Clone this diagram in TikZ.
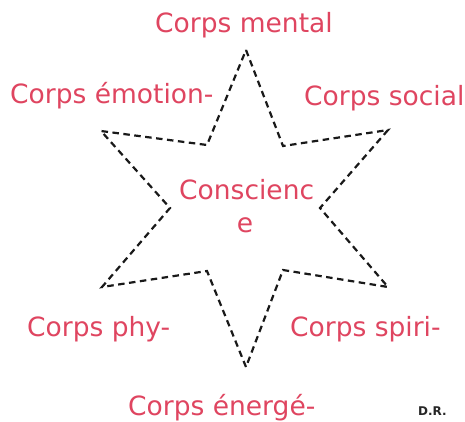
\documentclass[tikz,border=0pt]{standalone}
\usepackage{fontspec}
\setmainfont{DejaVu Sans}
\definecolor{lab}{HTML}{DF4560}
\begin{document}
\begin{tikzpicture}[x=1pt,y=-1pt,
  lbl/.style={text=lab,font=\fontsize{26.5}{30}\selectfont,inner sep=0pt,anchor=base west},
  starline/.style={draw=black!90,line width=2.2pt,dash pattern=on 6.5pt off 4.5pt}]
\useasboundingbox (0,0) rectangle (465,421);
\coordinate (t) at (246,50);
\coordinate (ir) at (283,146);
\coordinate (ur) at (388,130);
\coordinate (r) at (320,208);
\coordinate (lr) at (388,287);
\coordinate (irr) at (283,270);
\coordinate (b) at (246,367);
\coordinate (ill) at (207,271);
\coordinate (ll) at (102,287);
\coordinate (l) at (170,208);
\coordinate (ul) at (101,131);
\coordinate (il) at (207,145);
\draw[starline] (t) -- (ir) -- (ur) -- (r) -- (lr) -- (irr) -- (b) -- (ill) -- (ll) -- (l) -- (ul) -- (il) -- cycle;
\node[lbl] (m) at (155,32) {Corps mental};
\node[lbl] (e) at (10,103) {Corps émotion-};
\node[lbl] (s) at (304,105) {Corps social};
\node[lbl] (c1) at (179,199) {Conscienc};
\node[lbl,anchor=base] (c2) at (245,232) {e};
\node[lbl] (p) at (27,336) {Corps phy-};
\node[lbl] (sp) at (290,336) {Corps spiri-};
\node[lbl] (en) at (128,415) {Corps énergé-};
\node[font=\bfseries\fontsize{12}{13}\selectfont,inner sep=0pt,anchor=base west,text=black!85] (dr) at (418,415) {D.R.};
\end{tikzpicture}
\end{document}
